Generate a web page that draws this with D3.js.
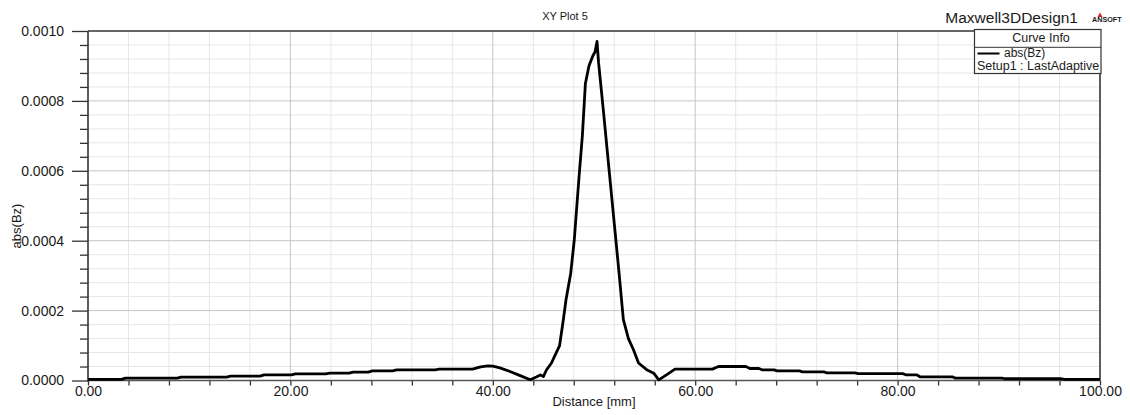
<!DOCTYPE html>
<html><head><meta charset="utf-8">
<script src="https://cdn.jsdelivr.net/npm/d3@7"></script>
<style>
body{margin:0;background:#fff}
svg{display:block}
text{font-family:"Liberation Sans",Arial,Helvetica,sans-serif;fill:#1a1a1a}
</style>
</head><body>
<svg id="chart" width="1130" height="415"></svg>
<script>
// ---- data ----
const distance = [0,3.3,3.7,8.8,9.2,13.7,14.1,17.0,17.4,20.1,20.5,23.5,23.9,25.8,26.2,27.7,28.1,30.1,30.5,34.3,34.7,38.0,38.8,39.5,40.0,40.7,41.7,42.7,43.7,44.3,44.7,45.0,45.3,45.8,46.1,46.6,46.97,47.23,47.7,48.05,48.3,48.55,48.85,49.15,49.5,49.9,50.1,50.3,50.45,50.9,51.5,52.1,52.5,52.9,53.4,53.9,54.4,55.2,55.9,56.4,57.2,58.0,61.7,62.3,65.0,65.4,66.3,66.6,67.8,68.1,70.3,70.6,72.7,73.0,75.8,76.1,80.5,80.8,81.9,82.2,85.4,85.7,90.3,90.6,96.2,96.5,100];
const absBz = [0.000003,0.000003,0.0000067,0.0000067,0.0000097,0.0000097,0.0000126,0.0000126,0.0000163,0.0000163,0.0000192,0.0000192,0.0000212,0.0000212,0.000024,0.000024,0.0000277,0.0000277,0.0000306,0.0000306,0.0000326,0.0000326,0.000039,0.000042,0.000041,0.0000363,0.0000257,0.000014,0.000002,0.000010,0.000016,0.000011,0.000030,0.000050,0.000069,0.000100,0.000174,0.00023,0.000307,0.000402,0.000498,0.000593,0.00070,0.00085,0.00090,0.00093,0.00094,0.00097,0.00091,0.00078,0.00060,0.00042,0.00030,0.000174,0.00012,0.000088,0.000050,0.000031,0.000021,0.000002,0.000017,0.0000326,0.0000326,0.000040,0.000040,0.0000343,0.0000343,0.0000306,0.0000306,0.0000277,0.0000277,0.0000249,0.0000249,0.000022,0.000022,0.0000196,0.0000196,0.0000163,0.0000163,0.0000106,0.0000106,0.0000069,0.0000069,0.000005,0.000005,0.000003,0.000003];
const xTicks = [0,20,40,60,80,100];
const xMinorTicks = [4,8,12,16,24,28,32,36,44,48,52,56,64,68,72,76,84,88,92,96];
const yTicks = [0,0.0002,0.0004,0.0006,0.0008,0.0010];
const yMinorTicks = [0.00004,0.00008,0.00012,0.00016,0.00024,0.00028,0.00032,0.00036,0.00044,0.00048,0.00052,0.00056,0.00064,0.00068,0.00072,0.00076,0.00084,0.00088,0.00092,0.00096];
const plotTitle = "XY Plot 5";
const designName = "Maxwell3DDesign1";
const xLabel = "Distance [mm]";
const yLabel = "abs(Bz)";
const legendTitle = "Curve Info";
const seriesName = "abs(Bz)";
const seriesSetup = "Setup1 : LastAdaptive";

// ---- layout ----
const L = 88, R = 1100, T = 31, B = 380.5;
const svg = d3.select("#chart");
const x = d3.scaleLinear().domain([0,100]).range([L,R]);
const y = d3.scaleLinear().domain([0,0.001]).range([B,T]);

// grid
const g = svg.append("g");
g.selectAll(".vmin").data(xMinorTicks).join("line")
  .attr("x1",d=>x(d)).attr("x2",d=>x(d)).attr("y1",T).attr("y2",B)
  .attr("stroke","#e6e6e6").attr("stroke-width",1);
g.selectAll(".hmin").data(yMinorTicks).join("line")
  .attr("y1",d=>y(d)).attr("y2",d=>y(d)).attr("x1",L).attr("x2",R)
  .attr("stroke","#e6e6e6").attr("stroke-width",1);
g.selectAll(".vmaj").data(xTicks.slice(1,-1)).join("line")
  .attr("x1",d=>x(d)).attr("x2",d=>x(d)).attr("y1",T).attr("y2",B)
  .attr("stroke","#c6c6c6").attr("stroke-width",1);
g.selectAll(".hmaj").data(yTicks.slice(1,-1)).join("line")
  .attr("y1",d=>y(d)).attr("y2",d=>y(d)).attr("x1",L).attr("x2",R)
  .attr("stroke","#c6c6c6").attr("stroke-width",1);

// axes
const yAx = svg.append("g").attr("transform",`translate(${L},0)`)
  .call(d3.axisLeft(y).tickValues(yTicks).tickFormat(d3.format(".4f")).tickSize(16).tickSizeOuter(0).tickPadding(8));
const yAxMin = svg.append("g").attr("transform",`translate(${L},0)`)
  .call(d3.axisLeft(y).tickValues(yMinorTicks).tickFormat("").tickSize(8).tickSizeOuter(0));
const xAx = svg.append("g").attr("transform",`translate(0,${B})`)
  .call(d3.axisBottom(x).tickValues(xTicks).tickFormat(d3.format(".2f")).tickSize(5).tickSizeOuter(0).tickPadding(1));
const xAxMin = svg.append("g").attr("transform",`translate(0,${B})`)
  .call(d3.axisBottom(x).tickValues(xMinorTicks).tickFormat("").tickSize(5).tickSizeOuter(0));
[yAx,yAxMin,xAx,xAxMin].forEach(a=>{
  a.selectAll("path.domain").remove();
  a.selectAll(".tick line").attr("stroke","#333").attr("stroke-width",1.3);
  a.selectAll(".tick text").attr("font-size",14).attr("font-family",'"Liberation Sans",Arial,sans-serif').attr("fill","#1a1a1a");
});

// frame
svg.append("line").attr("x1",L).attr("x2",R).attr("y1",T).attr("y2",T).attr("stroke","#333").attr("stroke-width",1.6);
svg.append("line").attr("x1",R).attr("x2",R).attr("y1",T).attr("y2",B).attr("stroke","#333").attr("stroke-width",1.6);
svg.append("line").attr("x1",L).attr("x2",L).attr("y1",T).attr("y2",B+1).attr("stroke","#333").attr("stroke-width",1.6);
svg.append("line").attr("x1",L).attr("x2",R).attr("y1",B).attr("y2",B).attr("stroke","#555").attr("stroke-width",1.6);

// curve
const line = d3.line().x((d,i)=>x(distance[i])).y((d,i)=>y(absBz[i]));
svg.append("path").datum(absBz).attr("d",line)
  .attr("fill","none").attr("stroke","#000").attr("stroke-width",2.8).attr("stroke-linejoin","round");

// titles
svg.append("text").attr("x",565).attr("y",20).attr("text-anchor","middle").attr("font-size",11).text(plotTitle);
svg.append("text").attr("x",1078).attr("y",22.5).attr("text-anchor","end").attr("font-size",15.5).text(designName);
svg.append("text").attr("x",(L+R)/2).attr("y",406).attr("text-anchor","middle").attr("font-size",13).text(xLabel);
svg.append("text").attr("transform",`translate(21,226) rotate(-90)`).attr("text-anchor","middle").attr("font-size",13).text(yLabel);

// ANSOFT logo
svg.append("path").attr("d","M1097.5,17 L1100,12.5 L1102.5,17 Z").attr("fill","#d62020");
svg.append("text").attr("x",1092).attr("y",21.5).attr("font-size",7.2)
  .attr("font-family",'"Liberation Serif","Times New Roman",serif').attr("font-weight","bold").attr("fill","#333").text("ANSOFT");

// legend
const lg = svg.append("g");
lg.append("rect").attr("x",974.5).attr("y",29.5).attr("width",126.5).attr("height",44)
  .attr("fill","#fff").attr("stroke","#333").attr("stroke-width",1.2);
lg.append("line").attr("x1",974.5).attr("x2",1101).attr("y1",47.3).attr("y2",47.3).attr("stroke","#333").attr("stroke-width",1);
lg.append("text").attr("x",1041).attr("y",41.5).attr("text-anchor","middle").attr("font-size",12.5).text(legendTitle);
lg.append("line").attr("x1",977.5).attr("x2",999.5).attr("y1",53.5).attr("y2",53.5).attr("stroke","#000").attr("stroke-width",2);
lg.append("text").attr("x",1004).attr("y",57).attr("font-size",12).text(seriesName);
lg.append("text").attr("x",977).attr("y",69.5).attr("font-size",12.5).text(seriesSetup);
</script>
</body></html>
